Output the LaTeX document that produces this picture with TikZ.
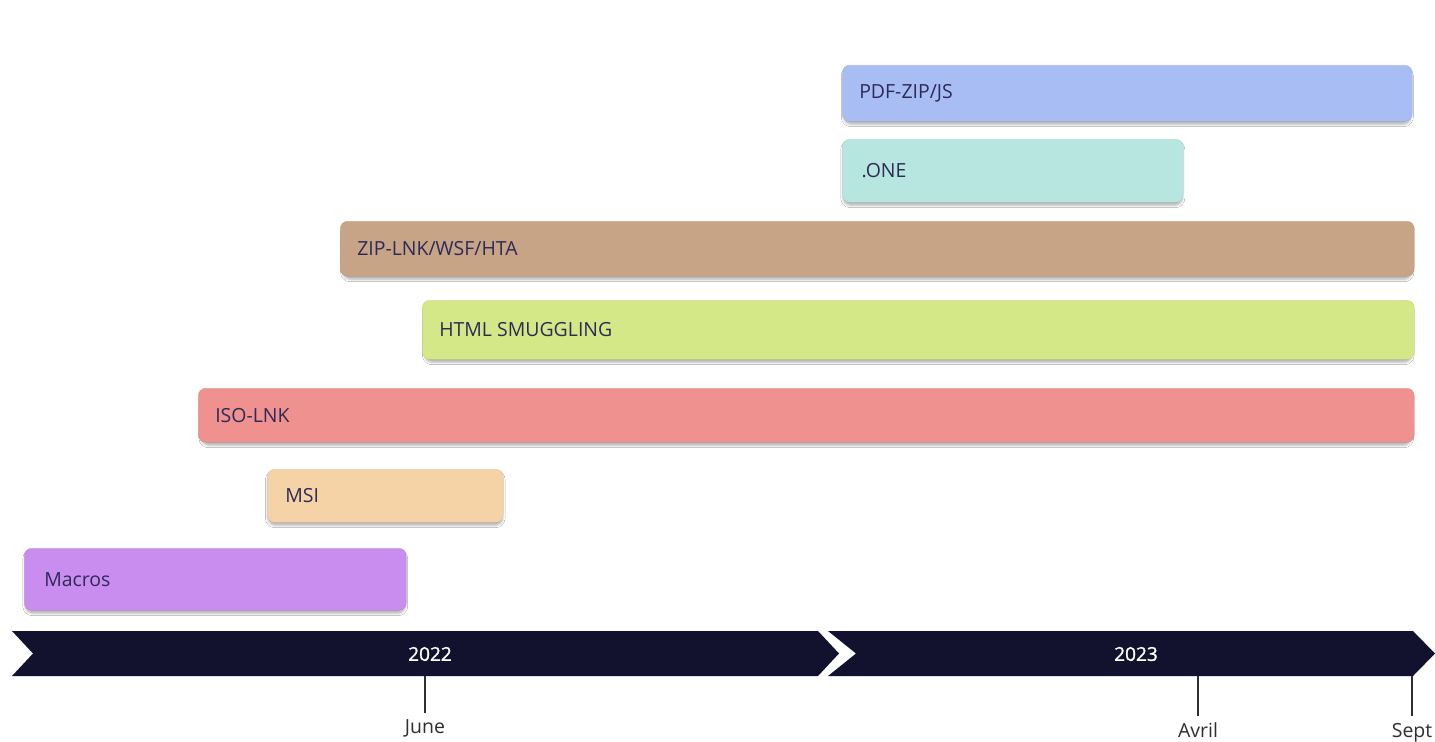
\documentclass[tikz,border=0pt]{standalone}
\usepackage{fontspec}
\setmainfont{Open Sans}
\newfontfamily\yearfont{Open Sans}[FakeBold=1.3]
\usetikzlibrary{shadows.blur}

\definecolor{pdfc}{HTML}{A9BDF5}
\definecolor{onec}{HTML}{B6E6DF}
\definecolor{zipc}{HTML}{C7A486}
\definecolor{htmlc}{HTML}{D5E887}
\definecolor{isoc}{HTML}{EE918F}
\definecolor{msic}{HTML}{F6D3A7}
\definecolor{macc}{HTML}{C98CEF}
\definecolor{labelc}{HTML}{2E2A58}
\definecolor{bandc}{HTML}{12122F}
\definecolor{tickc}{HTML}{2F2F2F}

\tikzset{
  barbox/.style={draw=#1!80!black, draw opacity=0.35, line width=0.4pt, fill=#1,
    rounded corners=5.5, inner sep=0pt,
    blur shadow={shadow xshift=0pt, shadow yshift=-2.4pt,
      shadow blur radius=1.8pt, shadow opacity=30, shadow scale=0.995}},
  barlabel/.style={text=labelc, font=\fontsize{14.6}{16}\selectfont,
    anchor=west, inner sep=0pt},
  yearlabel/.style={text=white, font=\yearfont\fontsize{14.3}{16}\selectfont, inner sep=0pt},
  monthlabel/.style={text=tickc, font=\fontsize{14.6}{16}\selectfont, inner sep=0pt},
  tickline/.style={draw=tickc, line width=0.8pt},
}

\begin{document}
\begin{tikzpicture}[x=0.75pt, y=-0.75pt]
\useasboundingbox (0,0) rectangle (1435,742);
\fill[white] (0,0) rectangle (1435,742);

% technique bars, each with its label
\node[barbox=pdfc, anchor=north west, minimum width=427.5pt, minimum height=42pt] (pdf) at (842,65) {};
\node[barlabel] (pdf-t) at ([xshift=12.75pt]pdf.west) {PDF-ZIP/JS};

\node[barbox=onec, anchor=north west, minimum width=255.75pt, minimum height=47.25pt] (one) at (842,139) {};
\node[barlabel] (one-t) at ([xshift=14.5pt]one.west) {.ONE};

\node[barbox=zipc, anchor=north west, minimum width=805.5pt, minimum height=41.25pt] (zip) at (340,221) {};
\node[barlabel] (zip-t) at ([xshift=12.75pt]zip.west) {ZIP-LNK/WSF/HTA};

\node[barbox=htmlc, anchor=north west, minimum width=744pt, minimum height=44.25pt] (html) at (422,300) {};
\node[barlabel] (html-t) at ([xshift=12.75pt]html.west) {HTML SMUGGLING};

\node[barbox=isoc, anchor=north west, minimum width=912pt, minimum height=40.5pt] (iso) at (198,388) {};
\node[barlabel] (iso-t) at ([xshift=12.75pt]iso.west) {ISO-LNK};

\node[barbox=msic, anchor=north west, minimum width=177pt, minimum height=39.75pt] (msi) at (267,469) {};
\node[barlabel] (msi-t) at ([xshift=13.5pt]msi.west) {MSI};

\node[barbox=macc, anchor=north west, minimum width=286.5pt, minimum height=46.5pt] (mac) at (24,548) {};
\node[barlabel] (mac-t) at ([xshift=15pt]mac.west) {Macros};

% timeline band: two chevron segments
\fill[bandc] (12,631) -- (818,631) -- (839,653.5) -- (818,676) -- (12,676) -- (33,653.5) -- cycle;
\fill[bandc] (828,631) -- (1413,631) -- (1435,653.5) -- (1413,676) -- (828,676) -- (856,653.5) -- cycle;

\node[yearlabel] (y22) at (430,654) {2022};
\node[yearlabel] (y23) at (1136,654) {2023};

% month ticks
\coordinate (jtop) at (425,676);
\coordinate (atop) at (1198,676);
\coordinate (stop) at (1412,676);
\coordinate (jbot) at (425,713);
\coordinate (abot) at (1198,716);
\coordinate (sbot) at (1412,716);
\node[monthlabel, anchor=base] (june) at (425,733) {June};
\node[monthlabel, anchor=base] (avril) at (1198,737) {Avril};
\node[monthlabel, anchor=base] (sept) at (1412,737) {Sept};
\draw[tickline] (jtop) -- (jbot);
\draw[tickline] (atop) -- (abot);
\draw[tickline] (stop) -- (sbot);
\end{tikzpicture}
\end{document}
